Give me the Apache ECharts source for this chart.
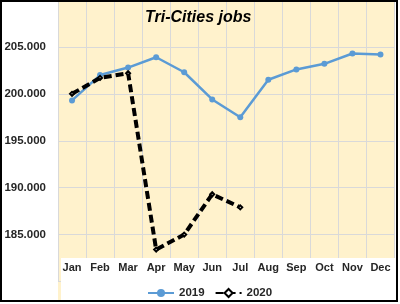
<!DOCTYPE html>
<html>
<head>
<meta charset="utf-8">
<script src="https://cdn.jsdelivr.net/npm/echarts@6/dist/echarts.min.js"></script>
<style>html,body{margin:0;padding:0;background:#fff;}#c{width:400px;height:304px;}</style>
</head>
<body>
<div id="c"></div>
<script>
const months = ['Jan','Feb','Mar','Apr','May','Jun','Jul','Aug','Sep','Oct','Nov','Dec'];
const jobs2019 = [199.3, 202.0, 202.8, 203.9, 202.3, 199.4, 197.5, 201.5, 202.6, 203.2, 204.3, 204.2];
const jobs2020 = [200.0, 201.7, 202.2, 183.4, 185.0, 189.3, 187.9];
const yTicks = [185, 190, 195, 200, 205];

const chart = echarts.init(document.getElementById('c'), null, {renderer: 'canvas'});
const font = 'Liberation Sans, Arial, sans-serif';
chart.setOption({
  animation: false,
  title: {
    text: 'Tri-Cities jobs', left: 140, top: 5,
    textStyle: {fontFamily: font, fontSize: 16, fontWeight: 'bold', fontStyle: 'italic', color: '#000'}
  },
  graphic: {elements: [
    {type: 'rect', shape: {x: 58, y: 2, width: 337, height: 298}, style: {fill: '#FFF2CC'}, z: -10, silent: true},
    {type: 'rect', shape: {x: 61, y: 258, width: 334, height: 42}, style: {fill: '#FFFFFF'}, z: 1, silent: true},
    {type: 'rect', shape: {x: 1, y: 1, width: 396, height: 300}, style: {fill: 'none', stroke: '#000', lineWidth: 2}, z: 10, silent: true}
  ]},
  legend: {
    data: ['2019', '2020'], left: 147, top: 287, padding: 0, itemWidth: 26, itemHeight: 10, itemGap: 10,
    textStyle: {fontFamily: font, fontSize: 11.5, fontWeight: 'bold', color: '#262626'}
  },
  grid: {left: 58, right: 5.5, top: -3.5, bottom: 22.5},
  xAxis: [
    {type: 'category', data: months, z: 0, axisLine: {show: false}, axisTick: {show: false}, axisLabel: {show: false},
     splitLine: {show: true, interval: 0, lineStyle: {color: '#D9D9D9', width: 1}}},
    {type: 'category', data: months, position: 'bottom', z: 3, axisLine: {show: false}, axisTick: {show: false},
     splitLine: {show: false},
     axisLabel: {interval: 0, margin: -13.5, verticalAlign: 'middle', fontFamily: font, fontSize: 11, fontWeight: 'bold', color: '#262626'}}
  ],
  yAxis: {
    type: 'value', min: 180, max: 210, interval: 5, z: 0,
    axisLine: {show: false}, axisTick: {show: false},
    splitLine: {lineStyle: {color: '#D9D9D9', width: 1}},
    axisLabel: {margin: 12, fontFamily: font, fontSize: 11.5, fontWeight: 'bold', color: '#262626',
      formatter: v => yTicks.indexOf(v) >= 0 ? v + '.000' : ''}
  },
  series: [
    {name: '2019', type: 'line', data: jobs2019, xAxisIndex: 0, z: 2,
     symbol: 'circle', symbolSize: 6, color: '#5B9BD5',
     lineStyle: {color: '#5B9BD5', width: 2.5}, itemStyle: {color: '#5B9BD5'}},
    {name: '2020', type: 'line', data: jobs2020, xAxisIndex: 0, z: 3,
     symbol: 'emptyDiamond', symbolSize: 4, color: '#000',
     lineStyle: {color: '#000', width: 4, type: [8, 4]}, itemStyle: {color: '#000', borderColor: '#000', borderWidth: 1}}
  ]
});
</script>
</body>
</html>
